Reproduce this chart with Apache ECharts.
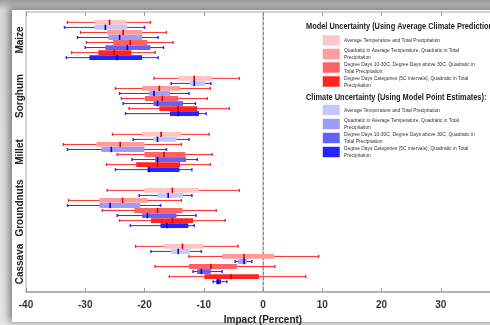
<!DOCTYPE html>
<html>
<head>
<meta charset="utf-8">
<script src="https://cdn.jsdelivr.net/npm/echarts@6/dist/echarts.min.js"></script>
<style>
  html, body { margin: 0; padding: 0; }
  #wrap { position: relative; width: 490px; height: 325px; overflow: hidden;
          background: linear-gradient(180deg, #9c9c9c 0px, #d6d6d6 10px, #e4e4e4 100%); }
  #panel { position: absolute; left: 12px; top: 10px; width: 490px; height: 312px; background: #fff;
           box-shadow: -3px -2px 7px rgba(0,0,0,0.45); border-bottom: 1px solid #bcbcbc; }
  #main { position: absolute; left: 0; top: 0; width: 490px; height: 325px; }
</style>
</head>
<body>
<div id="wrap"><div id="panel"></div><div id="main"></div></div>
<script>
var crops = ['Maize', 'Sorghum', 'Millet', 'Groundnuts', 'Cassava'];

var specNames = [
    'Average Temperature and Total Precipitation',
    'Quadratic in Average Temperature, Quadratic in Total\nPrecipitation',
    'Degree Days 10-30C, Degree Days above 30C, Quadratic in\nTotal Precipitation',
    'Degree Days Categories (5C intervals), Quadratic in Total\nPrecipitation'
];

// one row per crop: [min, q1, median, q3, max]
// model uncertainty (using average climate predictions)
var modelAvgTemp = [
    [-33.0, -28.4, -25.9, -23.1, -19.0],
    [-18.4, -14.3, -11.6, -8.6, -4.0],
    [-25.4, -20.5, -17.2, -13.8, -9.1],
    [-26.3, -20.0, -15.3, -10.8, -4.0],
    [-21.5, -16.8, -13.6, -10.1, -4.2]
];
var modelQuad = [
    [-30.8, -26.3, -23.6, -20.4, -16.3],
    [-24.9, -20.4, -17.5, -14.0, -8.9],
    [-33.7, -28.1, -24.1, -20.0, -13.8],
    [-32.8, -27.6, -23.7, -19.5, -13.8],
    [-12.5, -6.9, -3.2, 1.9, 9.4]
];
var modelDegDays = [
    [-29.8, -25.3, -22.4, -19.5, -15.2],
    [-23.9, -19.9, -17.0, -14.3, -9.4],
    [-24.6, -20.0, -16.7, -13.1, -8.6],
    [-27.1, -21.7, -17.8, -13.6, -7.9],
    [-18.2, -12.5, -8.8, -4.4, 2.0]
];
var modelDDCat = [
    [-32.3, -27.8, -25.1, -22.2, -18.2],
    [-22.6, -17.5, -14.3, -11.1, -5.7],
    [-26.4, -21.4, -17.8, -14.0, -8.9],
    [-24.2, -18.9, -15.3, -11.8, -6.4],
    [-15.8, -9.9, -5.4, -0.7, 7.2]
];
// climate uncertainty (using model point estimates)
var climAvgTemp = [
    [-33.5, -28.4, -26.6, -22.9, -20.0],
    [-15.5, -12.3, -11.6, -9.8, -8.8],
    [-21.9, -18.5, -17.8, -14.6, -12.5],
    [-20.9, -17.8, -16.0, -13.5, -12.0],
    [-18.9, -15.5, -14.3, -12.3, -10.4]
];
var climQuad = [
    [-31.3, -26.1, -24.2, -20.4, -17.7],
    [-24.2, -19.2, -18.4, -15.7, -12.5],
    [-33.0, -27.3, -25.6, -20.0, -16.3],
    [-33.0, -27.6, -25.8, -20.7, -17.3],
    [-4.7, -4.2, -3.2, -2.7, -1.9]
];
var climDegDays = [
    [-30.0, -26.6, -22.9, -19.0, -16.8],
    [-23.6, -18.5, -17.8, -13.5, -11.4],
    [-22.1, -18.2, -17.8, -13.0, -11.1],
    [-24.6, -20.4, -19.5, -14.6, -11.3],
    [-11.8, -11.1, -10.4, -8.8, -6.9]
];
var climDDCat = [
    [-33.2, -29.3, -24.6, -20.4, -17.7],
    [-23.2, -15.7, -14.3, -10.8, -9.6],
    [-24.9, -19.5, -19.2, -14.1, -12.0],
    [-22.4, -17.3, -16.2, -12.6, -11.6],
    [-8.4, -7.9, -7.6, -7.1, -6.1]
];

var redFills = ['#ffc6c6', '#ff9c9c', '#ff6262', '#ff2424'];
var blueFills = ['#c6c6ff', '#9c9cff', '#6262ff', '#2424ff'];

// rows from top to bottom inside each crop band
var rows = [
    {data: modelAvgTemp, fill: redFills[0], red: true},
    {data: climAvgTemp, fill: blueFills[0], red: false},
    {data: modelQuad, fill: redFills[1], red: true},
    {data: climQuad, fill: blueFills[1], red: false},
    {data: modelDegDays, fill: redFills[2], red: true},
    {data: climDegDays, fill: blueFills[2], red: false},
    {data: modelDDCat, fill: redFills[3], red: true},
    {data: climDDCat, fill: blueFills[3], red: false}
];

function makeRender(row, fill, red) {
    var line = red ? '#ff2b2b' : '#2b2bff';
    var med = red ? '#e00000' : '#0000c8';
    return function (params, api) {
        var cat = api.value(0);
        var band = api.size([0, 1])[1];
        var y = api.coord([0, cat])[1] + (row - 3.5) * band * 0.09;
        var x = [1, 2, 3, 4, 5].map(function (i) {
            return api.coord([api.value(i), cat])[0];
        });
        var bh = band * 0.086;
        return {
            type: 'group',
            children: [
                {type: 'line', shape: {x1: x[0], y1: y, x2: x[4], y2: y}, style: {stroke: line, lineWidth: 1}},
                {type: 'line', shape: {x1: x[0], y1: y - 1.5, x2: x[0], y2: y + 1.5}, style: {stroke: line, lineWidth: 1.5}},
                {type: 'line', shape: {x1: x[4], y1: y - 1.5, x2: x[4], y2: y + 1.5}, style: {stroke: line, lineWidth: 1.5}},
                {type: 'rect', shape: {x: x[1], y: y - bh / 2, width: x[3] - x[1], height: bh}, style: {fill: fill}},
                {type: 'line', shape: {x1: x[2], y1: y - bh / 2 - 0.3, x2: x[2], y2: y + bh / 2 + 0.3}, style: {stroke: med, lineWidth: 1.6}}
            ]
        };
    };
}

var series = rows.map(function (r, k) {
    var s = {
        type: 'custom',
        name: 'row' + k,
        renderItem: makeRender(k, r.fill, r.red),
        encode: {x: [1, 2, 3, 4, 5], y: 0},
        data: r.data.map(function (v, i) { return [i].concat(v); }),
        z: 3
    };
    if (k === 0) {
        s.markLine = {
            silent: true,
            symbol: 'none',
            label: {show: false},
            lineStyle: {type: [3, 2], color: '#8a8a8a', width: 1},
            data: [{xAxis: 0}],
            z: 1
        };
    }
    return s;
});

// legend drawn as graphics
var graphics = [];
function legendBlock(title, titleY, fills, swatchY) {
    graphics.push({
        type: 'text', x: 306, y: titleY, scaleX: 0.87,
        style: {text: title, font: 'bold 8.5px Arial', fill: '#222', verticalAlign: 'middle'}
    });
    for (var i = 0; i < 4; i++) {
        graphics.push({
            type: 'rect', shape: {x: 322.5, y: swatchY[i], width: 17.5, height: 11},
            style: {fill: fills[i], stroke: 'rgba(255,255,255,0.55)', lineWidth: 1}
        });
        graphics.push({
            type: 'text', x: 344, y: swatchY[i] + 6, scaleX: 0.92,
            style: {text: specNames[i], font: '5.3px Arial', fill: '#333', verticalAlign: 'middle', lineHeight: 7}
        });
    }
}
legendBlock('Model Uncertainty (Using Average Climate Predictions):', 27, redFills, [35, 48.5, 62, 76]);
legendBlock('Climate Uncertainty (Using Model Point Estimates):', 98, blueFills, [104.5, 118.5, 132.5, 146.5]);

var myChart = echarts.init(document.getElementById('main'));
var option = {
    backgroundColor: 'transparent',
    animation: false,
    grid: {left: 26, right: -10, top: 12, bottom: 33, show: true, borderColor: '#c4c4c4', borderWidth: 1.5, outerBoundsMode: 'none'},
    xAxis: [{
        type: 'value', min: -40, max: 40, interval: 10,
        name: 'Impact (Percent)', nameLocation: 'middle', nameGap: 19,
        nameTextStyle: {fontFamily: 'Arial', fontWeight: 'bold', fontSize: 10, color: '#222'},
        axisLine: {show: true, lineStyle: {color: '#b4b4b4', width: 2}},
        axisTick: {show: true, inside: true, length: 4, lineStyle: {color: '#999'}},
        axisLabel: {fontFamily: 'Arial', fontWeight: 'bold', fontSize: 10, color: '#333', margin: 8},
        splitLine: {show: false}
    }, {
        type: 'value', position: 'top', min: -40, max: 40, interval: 10,
        axisLine: {show: false},
        axisTick: {show: true, inside: true, length: 4, lineStyle: {color: '#999'}},
        axisLabel: {show: false},
        splitLine: {show: false}
    }],
    yAxis: {
        type: 'category', data: crops, inverse: true,
        axisLine: {show: true, lineStyle: {color: '#c4c4c4', width: 1.5}},
        axisTick: {show: false},
        axisLabel: {interval: 0, rotate: 90, fontFamily: 'Arial', fontWeight: 'bold', fontSize: 10, color: '#222', margin: 1},
        splitLine: {show: false}
    },
    graphic: graphics,
    series: series
};
myChart.setOption(option);
</script>
</body>
</html>
